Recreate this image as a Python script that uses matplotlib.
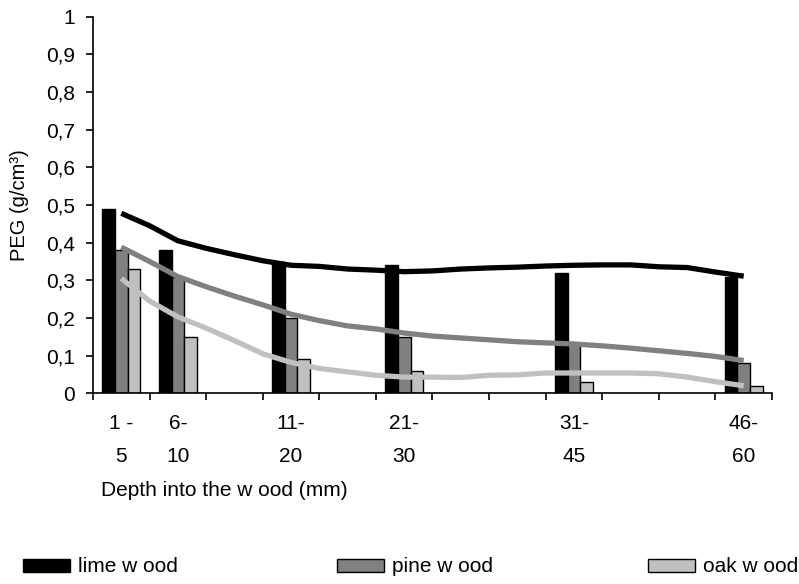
import numpy as np
import matplotlib
matplotlib.use("Agg")
import matplotlib.pyplot as plt
from matplotlib.patches import Patch

plt.rcParams['font.family'] = ['Liberation Sans', 'DejaVu Sans']

# category slots on the x axis (12 slots, only some carry bars)
cat_labels = ["1 -\n5", "6-\n10", "", "11-\n20", "", "21-\n30",
              "", "", "31-\n45", "", "", "46-\n60"]
bar_slots = np.array([0, 1, 3, 5, 8, 11])

lime_bars = np.array([0.49, 0.38, 0.35, 0.34, 0.32, 0.31])
pine_bars = np.array([0.38, 0.31, 0.20, 0.15, 0.13, 0.08])
oak_bars = np.array([0.33, 0.15, 0.09, 0.06, 0.03, 0.02])

curve_x = np.arange(0, 11.01, 0.5)
lime_curve = np.array([0.478, 0.445, 0.405, 0.385, 0.368, 0.352, 0.340, 0.337,
                       0.330, 0.327, 0.323, 0.325, 0.330, 0.333, 0.335, 0.338,
                       0.340, 0.341, 0.341, 0.336, 0.334, 0.322, 0.311])
pine_curve = np.array([0.388, 0.350, 0.310, 0.283, 0.258, 0.235, 0.210, 0.193,
                       0.179, 0.171, 0.160, 0.152, 0.147, 0.142, 0.137, 0.134,
                       0.131, 0.126, 0.120, 0.113, 0.106, 0.098, 0.087])
oak_curve = np.array([0.305, 0.245, 0.203, 0.173, 0.140, 0.105, 0.082, 0.066,
                      0.057, 0.048, 0.043, 0.043, 0.042, 0.048, 0.049, 0.054,
                      0.054, 0.054, 0.054, 0.052, 0.043, 0.031, 0.020])

names = ["lime w ood", "pine w ood", "oak w ood"]
colors = ["#000000", "#808080", "#c0c0c0"]
fs = 15

fig = plt.figure(figsize=(7.99, 5.84), dpi=100)
ax = fig.add_axes([0.1164, 0.3265, 0.8498, 0.6449])

w = 0.225
for i, vals in enumerate([lime_bars, pine_bars, oak_bars]):
    ax.bar(bar_slots + (i - 1) * w, vals, width=w, color=colors[i],
           edgecolor="black", linewidth=1, zorder=2)

for curve, c in zip([lime_curve, pine_curve, oak_curve], colors):
    ax.plot(curve_x, curve, color=c, linewidth=3.8, zorder=3,
            solid_capstyle="butt")

ax.set_xlim(-0.5, 11.5)
ax.set_ylim(0, 1)

ax.set_xticks(np.arange(-0.5, 11.6, 1))
ax.set_xticklabels([])
ax.set_xticks(np.arange(12), minor=True)
ax.set_xticklabels(cat_labels, minor=True, fontsize=fs, linespacing=1.95)
ax.tick_params(axis="x", which="major", direction="out", length=5, width=1.2)
ax.tick_params(axis="x", which="minor", length=0, pad=15)

yt = np.round(np.arange(0, 1.01, 0.1), 1)
ax.set_yticks(yt)
ax.set_yticklabels([("%g" % v).replace(".", ",") for v in yt], fontsize=fs)
ax.tick_params(axis="y", direction="out", length=5, width=1.2, pad=8)

for s in ["top", "right"]:
    ax.spines[s].set_visible(False)
for s in ["left", "bottom"]:
    ax.spines[s].set_linewidth(1.2)

ax.set_ylabel("PEG (g/cm³)", fontsize=14.5, labelpad=12)
fig.text(0.126, 0.16, "Depth into the w ood (mm)", fontsize=fs,
         ha="left", va="center")

# legend entries placed one by one, spread across the bottom
leg_x = [23, 337, 648]
for name, c, x in zip(names, colors, leg_x):
    h = Patch(facecolor=c, edgecolor="black", linewidth=1)
    fig.legend([h], [name], loc="center left",
               bbox_to_anchor=(x / 799, 1 - 567 / 584), frameon=False,
               fontsize=fs, handlelength=2.25, handleheight=0.58,
               handletextpad=0.38, borderpad=0, borderaxespad=0)

fig.savefig("out.png", dpi=100)
